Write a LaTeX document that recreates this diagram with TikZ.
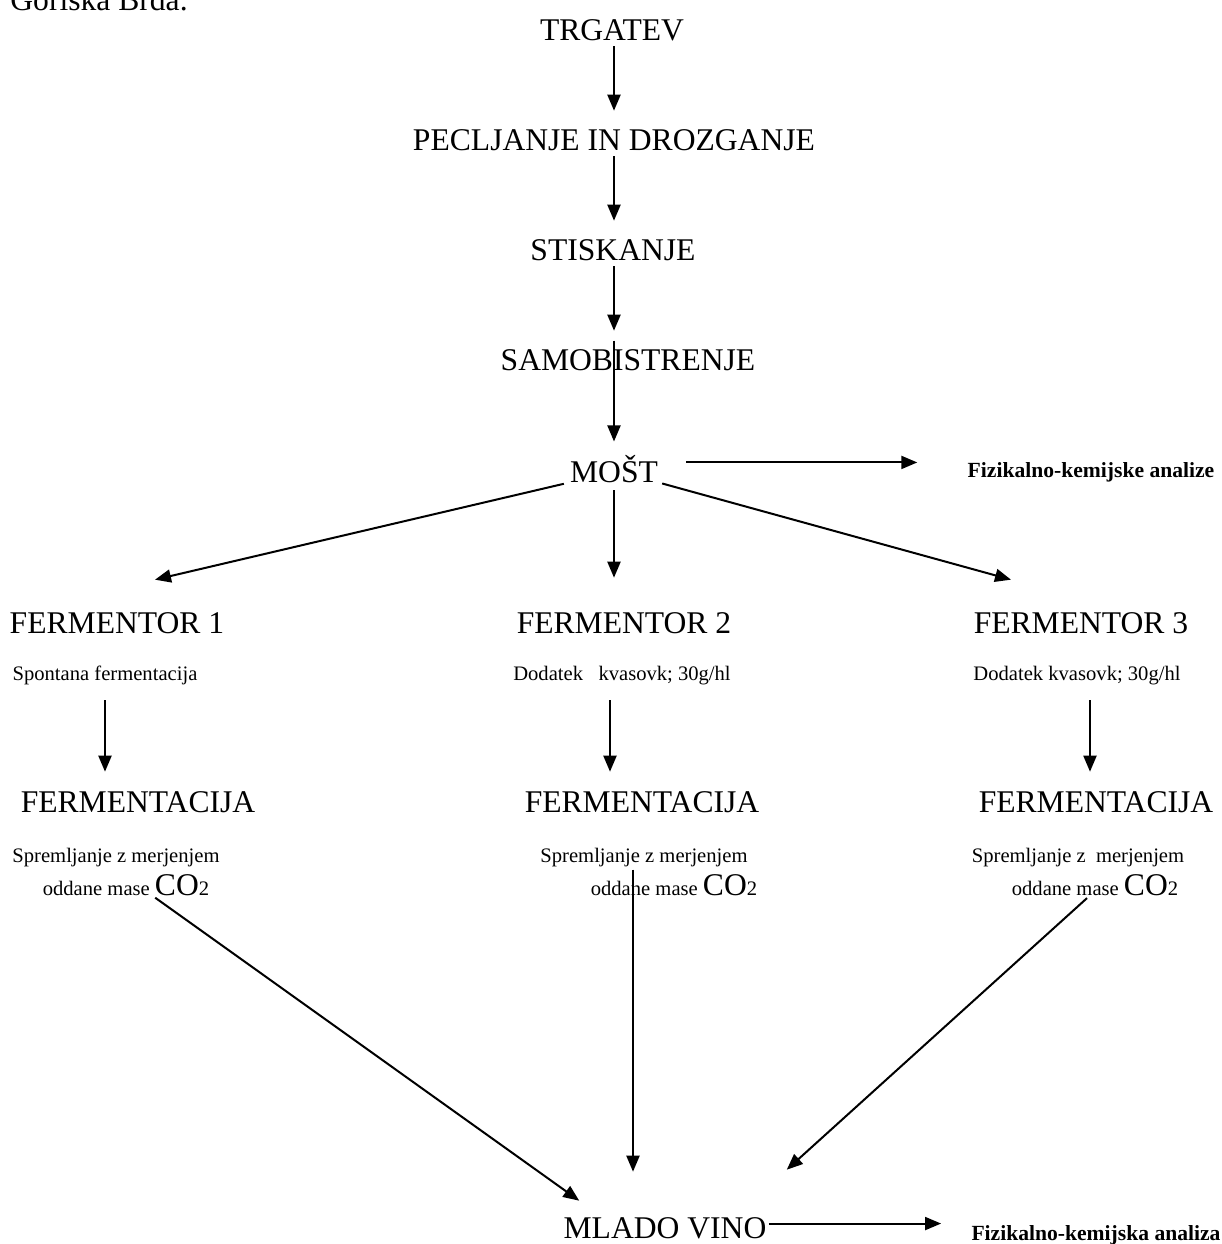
\documentclass[tikz,border=0pt]{standalone}
\usepackage{fontspec}
\setmainfont{Liberation Serif}
\usetikzlibrary{arrows.meta}

\newcommand{\bigf}{\fontsize{15.8}{18}\selectfont}
\newcommand{\smallf}{\fontsize{10.3}{12}\selectfont}

\begin{document}
\begin{tikzpicture}[x=0.5pt, y=-0.5pt,
  stage/.style={inner sep=0pt, text depth=0pt, anchor=base, font=\bigf},
  note/.style={inner sep=0pt, text depth=0pt, anchor=base, font=\smallf},
  result/.style={inner sep=0pt, text depth=0pt, anchor=base, font=\fontsize{10.8}{12}\selectfont\bfseries},
  arr/.style={-{Triangle[length=8pt,width=6.5pt]}, line width=1pt}]
\useasboundingbox (0,0) rectangle (1222,1244);

\node (title) [stage, anchor=base west] at (10,10) {Goriška Brda.};

\node (trg) [stage] at (612,40) {TRGATEV};
\node (pec) [stage] at (614,150) {PECLJANJE IN DROZGANJE};
\node (sti) [stage] at (613,260) {STISKANJE};
\node (sam) [stage] at (628,370) {SAMOBISTRENJE};
\node (most) [stage] at (614,482) {MOŠT};
\node (fka) [result] at (1091,477) {Fizikalno-kemijske analize};

\node (f1) [stage] at (117,633) {FERMENTOR 1};
\node (f2) [stage] at (624,633) {FERMENTOR 2};
\node (f3) [stage] at (1081,633) {FERMENTOR 3};

\node (d1) [note] at (105,680) {Spontana fermentacija};
\node (d2) [note] at (622,680) {Dodatek\ \ \ kvasovk; 30g/hl};
\node (d3) [note] at (1077,680) {Dodatek kvasovk; 30g/hl};

\node (fe1) [stage] at (138,812) {FERMENTACIJA};
\node (fe2) [stage] at (642,812) {FERMENTACIJA};
\node (fe3) [stage] at (1096,812) {FERMENTACIJA};

\node (sp1) [note] at (116,862) {Spremljanje z merjenjem};
\node (od1) [note] at (126,895) {oddane mase {\bigf CO}2};
\node (sp2) [note] at (644,862) {Spremljanje z merjenjem};
\node (od2) [note] at (674,895) {oddane mase {\bigf CO}2};
\node (sp3) [note] at (1078,862) {Spremljanje z\ \ merjenjem};
\node (od3) [note] at (1095,895) {oddane mase {\bigf CO}2};

\node (mv) [stage] at (665,1238) {MLADO VINO};
\node (fka2) [result] at (1096,1240) {Fizikalno-kemijska analiza};

% main line
\draw [arr, shorten <=3pt, shorten >=9pt] (trg.south -| most.center) -- (pec.north -| most.center);
\draw [arr, shorten <=3pt, shorten >=9pt] (pec.south -| most.center) -- (sti.north -| most.center);
\draw [arr, shorten <=3pt, shorten >=9pt] (sti.south -| most.center) -- (sam.north -| most.center);
\draw [arr, shorten <=-4pt, shorten >=6.5pt] (sam.north -| most.center) -- (most.north);
\draw [arr, shorten <=14pt, shorten >=25pt] ([yshift=3pt]most.east) -- ([yshift=3pt]most.east -| fka.west);

% split to fermentors
\draw [arr, shorten <=3pt] (most.south west) -- ([xshift=19pt,yshift=16pt]f1.north);
\draw [arr, shorten <=4pt, shorten >=17pt] (most.south) -- (most.south |- f2.north);
\draw [arr, shorten <=2pt] (most.south east) -- ([xshift=-35pt,yshift=16pt]f3.north);

\draw [arr, shorten <=10pt, shorten >=9.5pt] (d1.south) -- (d1.south |- fe1.north);
\draw [arr, shorten <=10pt, shorten >=9.5pt] ([xshift=-6pt]d2.south) -- ([xshift=-6pt]d2.south |- fe2.north);
\draw [arr, shorten <=10pt, shorten >=9.5pt] ([xshift=6.5pt]d3.south) -- ([xshift=6.5pt]d3.south |- fe3.north);

% to young wine
\draw [arr, shorten <=2pt] ([xshift=13pt]od1.south) -- ([xshift=8pt,yshift=8pt]mv.north west);
\draw [arr, shorten <=-2pt, shorten >=22.5pt] ([xshift=-20.5pt]od2.north) -- ([xshift=-20.5pt]od2.north |- mv.north);
\draw [arr, shorten <=2pt] ([xshift=-2.5pt]od3.south) -- ([xshift=10pt,yshift=23.5pt]mv.north east);
\draw [arr, shorten <=1pt, shorten >=15pt] ([yshift=2pt]mv.east) -- ([yshift=2pt]mv.east -| fka2.west);
\end{tikzpicture}
\end{document}
